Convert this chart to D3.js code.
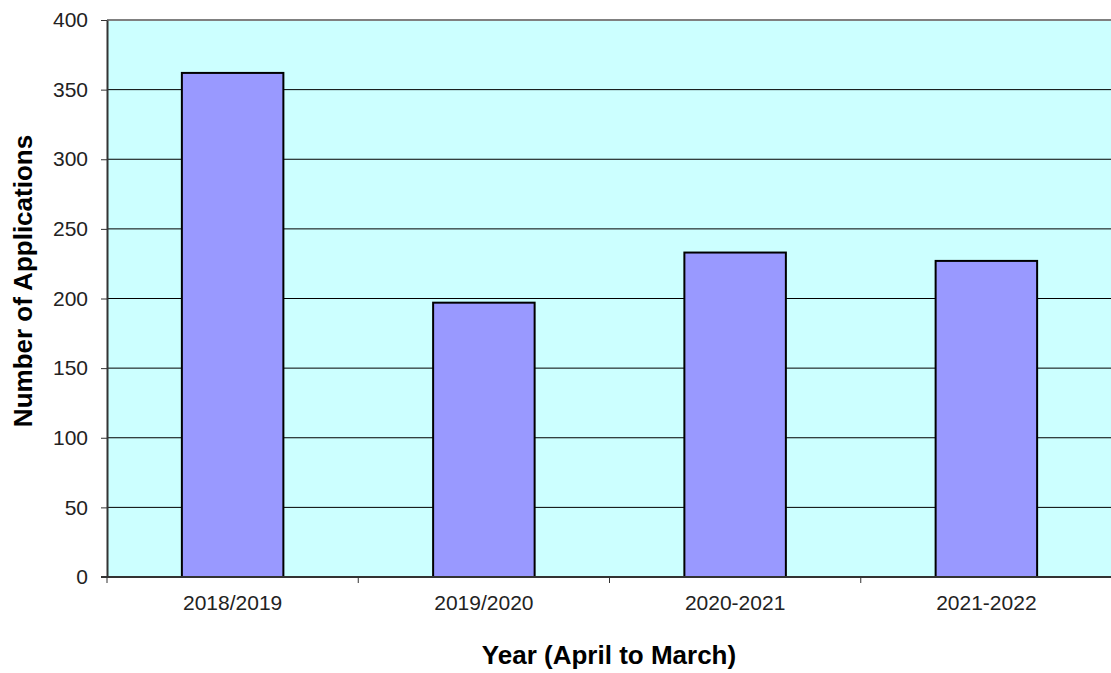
<!DOCTYPE html>
<html>
<head>
<meta charset="utf-8">
<script src="https://cdn.jsdelivr.net/npm/d3@7"></script>
<style>
  body { margin: 0; background: #fff; }
  text { font-family: Arial, "Liberation Sans", sans-serif; }
</style>
</head>
<body>
<svg width="1111" height="673"></svg>
<script>
var years = ['2018/2019', '2019/2020', '2020-2021', '2021-2022']
var applications = [362, 197, 233, 227]
var yTicks = [0, 50, 100, 150, 200, 250, 300, 350, 400]

var svg = d3.select('svg')
var plotLeft = 107, plotTop = 20, plotBottom = 577, plotRight = 1112

var x = d3.scaleBand()
    .domain(years)
    .range([plotLeft, plotRight])
    .paddingInner(0.596)
    .paddingOuter(0.298)

var xCat = d3.scaleBand().domain(years).range([plotLeft, plotRight])

var y = d3.scaleLinear().domain([0, 400]).range([plotBottom, plotTop])

// plot background
svg.append('rect')
    .attr('x', plotLeft).attr('y', plotTop)
    .attr('width', plotRight - plotLeft).attr('height', plotBottom - plotTop)
    .attr('fill', '#ccffff')

// gridlines
svg.selectAll('line.grid')
    .data(yTicks.filter(function (d) { return d > 0 && d < 400 }))
    .enter().append('line')
    .attr('class', 'grid')
    .attr('x1', plotLeft).attr('x2', plotRight)
    .attr('y1', function (d) { return y(d) }).attr('y2', function (d) { return y(d) })
    .attr('stroke', '#000').attr('stroke-width', 1)

// top border
svg.append('line')
    .attr('x1', plotLeft).attr('x2', plotRight)
    .attr('y1', plotTop).attr('y2', plotTop)
    .attr('stroke', '#808080').attr('stroke-width', 2)

// bars
svg.selectAll('rect.bar')
    .data(applications)
    .enter().append('rect')
    .attr('class', 'bar')
    .attr('x', function (d, i) { return x(years[i]) })
    .attr('y', function (d) { return y(d) })
    .attr('width', x.bandwidth())
    .attr('height', function (d) { return plotBottom - y(d) })
    .attr('fill', '#9999ff')
    .attr('stroke', '#000')
    .attr('stroke-width', 2)

// y axis
var yAxis = svg.append('g')
    .attr('transform', 'translate(' + plotLeft + ',0)')
    .call(d3.axisLeft(y).tickValues(yTicks).tickSize(6).tickPadding(13).tickSizeOuter(0))
yAxis.select('.domain').attr('stroke', '#333').attr('stroke-width', 2)
yAxis.selectAll('.tick line').attr('stroke', '#333')
yAxis.selectAll('.tick text')
    .attr('fill', '#222').style('font-size', '21px')
    .attr('font-family', 'Arial, "Liberation Sans", sans-serif')

// x axis
var xAxis = svg.append('g')
    .attr('transform', 'translate(0,' + plotBottom + ')')
svg.append('line')
    .attr('x1', plotLeft - 6).attr('x2', plotRight)
    .attr('y1', plotBottom).attr('y2', plotBottom)
    .attr('stroke', '#333').attr('stroke-width', 2)
xAxis.selectAll('line.cat')
    .data(years)
    .enter().append('line')
    .attr('x1', function (d) { return xCat(d) }).attr('x2', function (d) { return xCat(d) })
    .attr('y1', 0).attr('y2', 6)
    .attr('stroke', '#333')
xAxis.selectAll('text')
    .data(years)
    .enter().append('text')
    .attr('x', function (d) { return xCat(d) + xCat.bandwidth() / 2 })
    .attr('y', 33)
    .attr('text-anchor', 'middle')
    .attr('fill', '#222')
    .style('font-size', '21px')
    .text(function (d) { return d })

// axis titles
svg.append('text')
    .attr('transform', 'translate(32,281) rotate(-90)')
    .attr('text-anchor', 'middle')
    .style('font-size', '26px').style('font-weight', 'bold')
    .attr('fill', '#000')
    .text('Number of Applications')

svg.append('text')
    .attr('x', 609).attr('y', 664)
    .attr('text-anchor', 'middle')
    .style('font-size', '26px').style('font-weight', 'bold')
    .attr('fill', '#000')
    .text('Year (April to March)')
</script>
</body>
</html>
